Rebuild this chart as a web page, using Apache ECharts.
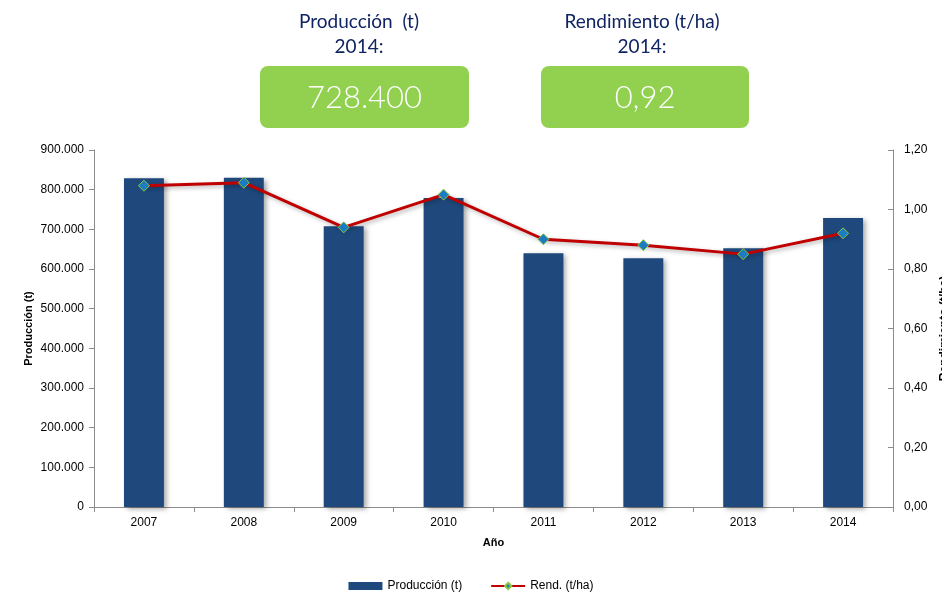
<!DOCTYPE html>
<html>
<head>
<meta charset="utf-8">
<script src="https://cdn.jsdelivr.net/npm/echarts@6/dist/echarts.min.js"></script>
<style>
  html, body { margin: 0; padding: 0; background: #fff; }
  #chart { width: 942px; height: 593px; }
</style>
</head>
<body>
<div id="chart"></div>
<script>
// datos
var years = ['2007', '2008', '2009', '2010', '2011', '2012', '2013', '2014'];
var produccion = [829000, 830000, 708000, 779000, 640000, 627000, 652000, 728400];
var rendimiento = [1.08, 1.09, 0.94, 1.05, 0.90, 0.88, 0.85, 0.92];
var headlineProd = '728.400';
var headlineRend = '0,92';

var chart = echarts.init(document.getElementById('chart'));

function fmtMiles(v) {
  return String(Math.round(v)).replace(/\B(?=(\d{3})+(?!\d))/g, '.');
}
function fmtDec(v) {
  return v.toFixed(2).replace('.', ',');
}

var titleFont = 'Lato, "Noto Sans", sans-serif';
var axisFont = '"Liberation Sans", Arial, sans-serif';
var navy = '#0F2462';

var option = {
  animation: false,
  backgroundColor: '#fff',
  graphic: [
    { type: 'text', x: 359, y: 22, style: { text: 'Producción  (t)', font: '19px ' + titleFont, fill: navy, align: 'center', verticalAlign: 'middle' } },
    { type: 'text', x: 359, y: 47, style: { text: '2014:', font: '19px ' + titleFont, fill: navy, align: 'center', verticalAlign: 'middle' } },
    { type: 'text', x: 642, y: 22, style: { text: 'Rendimiento (t/ha)', font: '19px ' + titleFont, fill: navy, align: 'center', verticalAlign: 'middle' } },
    { type: 'text', x: 642, y: 47, style: { text: '2014:', font: '19px ' + titleFont, fill: navy, align: 'center', verticalAlign: 'middle' } },
    { type: 'rect', shape: { x: 260, y: 66, width: 209, height: 62, r: 8 }, style: { fill: '#92D050' } },
    { type: 'rect', shape: { x: 541, y: 66, width: 208, height: 62, r: 8 }, style: { fill: '#92D050' } },
    { type: 'text', x: 364.5, y: 98, style: { text: headlineProd, font: '300 31px ' + titleFont, fill: '#fff', align: 'center', verticalAlign: 'middle' } },
    { type: 'text', x: 645, y: 98, style: { text: headlineRend, font: '300 31px ' + titleFont, fill: '#fff', align: 'center', verticalAlign: 'middle' } }
  ],
  grid: { left: 94, right: 49, top: 150, bottom: 86, containLabel: false, outerBoundsMode: 'none' },
  legend: {
    bottom: -4,
    left: 'center',
    itemWidth: 34,
    itemHeight: 8,
    itemGap: 28,
    textStyle: { fontFamily: axisFont, fontSize: 12, color: '#000' },
    data: [
      { name: 'Producción (t)', icon: 'rect' },
      { name: 'Rend. (t/ha)' }
    ]
  },
  xAxis: {
    type: 'category',
    data: years,
    name: 'Año',
    nameLocation: 'middle',
    nameGap: 30,
    nameMoveOverlap: false,
    nameTextStyle: { fontFamily: axisFont, fontSize: 11, fontWeight: 'bold', color: '#000' },
    axisLine: { lineStyle: { color: '#8c8c8c' } },
    axisTick: { show: true, length: 5, lineStyle: { color: '#8c8c8c' } },
    axisLabel: { fontFamily: axisFont, fontSize: 12, color: '#000', margin: 10 }
  },
  yAxis: [
    {
      type: 'value',
      min: 0,
      max: 900000,
      interval: 100000,
      name: 'Producción (t)',
      nameLocation: 'middle',
      nameGap: 60,
      nameMoveOverlap: false,
      nameTextStyle: { fontFamily: axisFont, fontSize: 11, fontWeight: 'bold', color: '#000' },
      axisLine: { show: true, lineStyle: { color: '#8c8c8c' } },
      axisTick: { show: true, length: 5, lineStyle: { color: '#8c8c8c' } },
      splitLine: { show: false },
      axisLabel: { fontFamily: axisFont, fontSize: 12, color: '#000', margin: 10, formatter: fmtMiles }
    },
    {
      type: 'value',
      min: 0,
      max: 1.2,
      interval: 0.2,
      position: 'right',
      name: 'Rendimiento (t/ha)',
      nameLocation: 'middle',
      nameGap: 46,
      nameMoveOverlap: false,
      nameTextStyle: { fontFamily: axisFont, fontSize: 12, fontWeight: 'bold', color: '#000' },
      axisLine: { show: true, lineStyle: { color: '#8c8c8c' } },
      axisTick: { show: true, inside: true, length: 5, lineStyle: { color: '#8c8c8c' } },
      splitLine: { show: false },
      axisLabel: { fontFamily: axisFont, fontSize: 12, color: '#000', margin: 11, formatter: fmtDec }
    }
  ],
  series: [
    {
      name: 'Producción (t)',
      type: 'bar',
      yAxisIndex: 0,
      data: produccion,
      barWidth: '40%',
      itemStyle: {
        color: '#1F497D',
        shadowColor: 'rgba(0,0,0,0.35)',
        shadowBlur: 5,
        shadowOffsetX: 3,
        shadowOffsetY: 2
      }
    },
    {
      name: 'Rend. (t/ha)',
      type: 'line',
      yAxisIndex: 1,
      data: rendimiento,
      symbol: 'diamond',
      symbolSize: 11,
      lineStyle: {
        color: '#C00000',
        width: 3,
        shadowColor: 'rgba(0,0,0,0.3)',
        shadowBlur: 4,
        shadowOffsetX: 2,
        shadowOffsetY: 2
      },
      itemStyle: { color: '#1A7DC4', borderColor: '#8CC63F', borderWidth: 1 }
    }
  ]
};

chart.setOption(option);
</script>
</body>
</html>
